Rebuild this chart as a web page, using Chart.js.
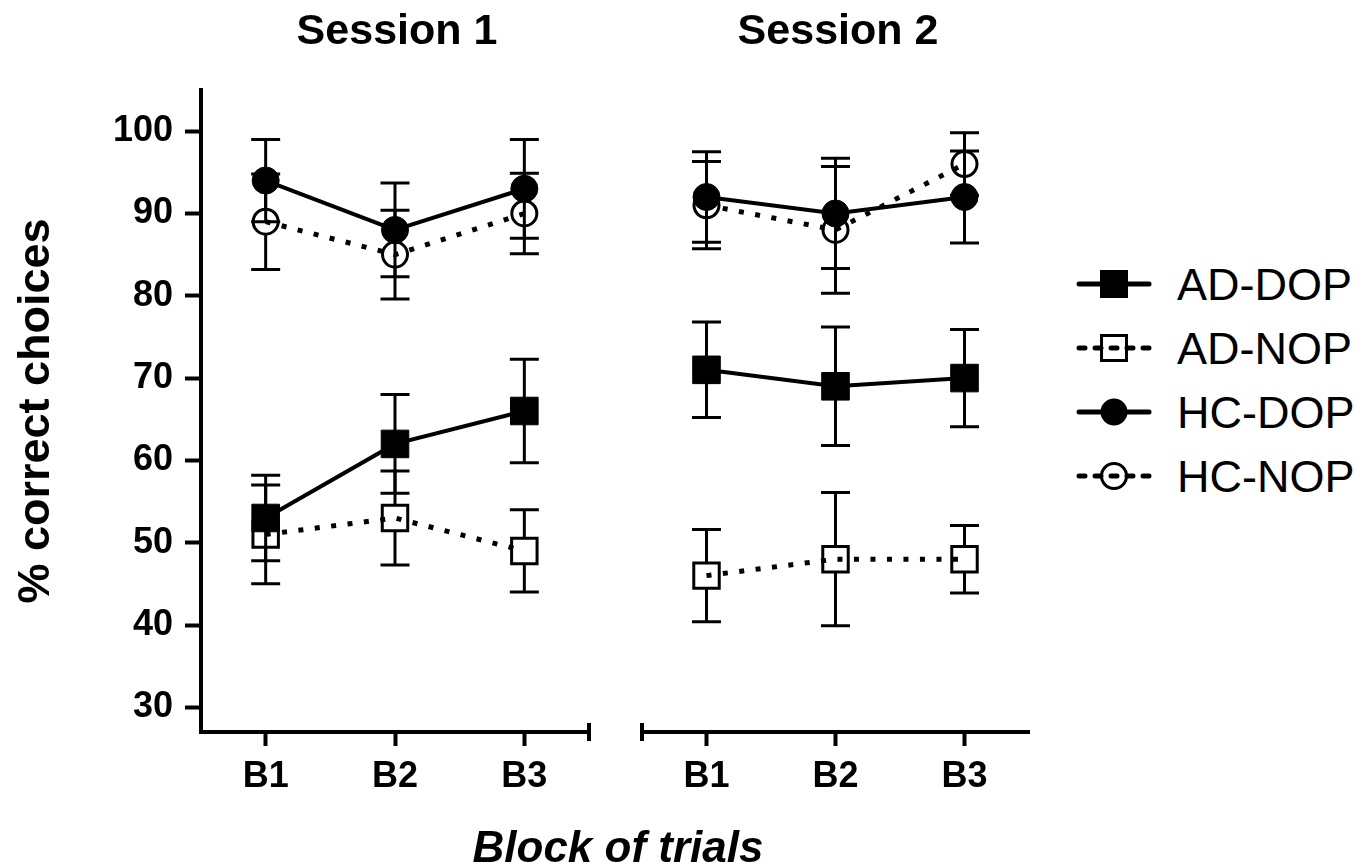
<!DOCTYPE html>
<html lang="en">
<head>
<meta charset="UTF-8">
<title>% correct choices by block of trials</title>
<script src="https://cdn.jsdelivr.net/npm/chart.js"></script>
<style>
  body { margin: 0; background: #fff; font-family: "Liberation Sans", Arial, sans-serif; color: #000; }
  #wrap { position: relative; width: 1372px; height: 867px; overflow: hidden; }
  canvas { position: absolute; top: 0; }
  #c1 { left: 0; }
  #c2 { left: 610px; }
  .session { position: absolute; top: 8px; font-weight: bold; font-size: 43px; line-height: 43px; white-space: nowrap; transform: translateX(-50%); }
  #xtitle { position: absolute; left: 618px; top: 825px; font-weight: bold; font-style: italic; font-size: 44px; line-height: 44px; white-space: nowrap; transform: translateX(-50%); }
  .leg { position: absolute; left: 1074px; width: 298px; height: 44px; }
  .leg svg { position: absolute; left: 0; top: 0; }
  .leg span { position: absolute; left: 103px; top: 0; font-size: 45px; line-height: 45px; white-space: nowrap; }
</style>
</head>
<body>
<div id="wrap">
  <canvas id="c1" width="610" height="867"></canvas>
  <canvas id="c2" width="440" height="867"></canvas>
  <div class="session" style="left:397px">Session 1</div>
  <div class="session" style="left:838px">Session 2</div>
  <div id="xtitle">Block of trials</div>
  <div id="legend"></div>
</div>

<script>
const blocks = ['B1', 'B2', 'B3'];
const groups = ['AD-DOP', 'AD-NOP', 'HC-DOP', 'HC-NOP'];
const yTicks = [30, 40, 50, 60, 70, 80, 90, 100];

// session 1 - mean % correct
const s1AdDop = [53, 62, 66];
const s1AdNop = [51, 53, 49];
const s1HcDop = [94, 88, 93];
const s1HcNop = [89, 85, 90];
// session 1 - error bar half length
const s1AdDopErr = [5.2, 6.0, 6.3];
const s1AdNopErr = [6.0, 5.7, 5.0];
const s1HcDopErr = [5.0, 5.7, 6.0];
const s1HcNopErr = [5.8, 5.4, 4.9];

// session 2 - mean % correct
const s2AdDop = [71, 69, 70];
const s2AdNop = [46, 48, 48];
const s2HcDop = [92, 90, 92];
const s2HcNop = [91, 88, 96];
// session 2 - error bar half length
const s2AdDopErr = [5.8, 7.2, 5.9];
const s2AdNopErr = [5.6, 8.1, 4.1];
const s2HcDopErr = [5.5, 6.7, 5.6];
const s2HcNopErr = [5.3, 7.7, 3.8];

const FONT = '"Liberation Sans", Arial, sans-serif';

// marker look per group (same order as groups)
const looks = [
  { style: 'rect', radius: 19.5, fill: '#000', bw: 1, dash: [], line: 4, hole: 0 },
  { style: 'rect', radius: 18, fill: 'rgba(0,0,0,0)', bw: 3, dash: [5, 11.5], line: 5, hole: 13 },
  { style: 'circle', radius: 13.5, fill: '#000', bw: 1, dash: [], line: 4, hole: 0 },
  { style: 'circle', radius: 12.5, fill: 'rgba(0,0,0,0)', bw: 3, dash: [5, 11.5], line: 5, hole: 13 }
];

function makeSets(means, errs) {
  return groups.map((g, i) => ({
    label: g,
    data: means[i],
    errors: errs[i],
    hole: looks[i].hole,
    borderColor: '#000',
    borderWidth: looks[i].line,
    borderDash: looks[i].dash,
    fill: false,
    tension: 0,
    pointStyle: looks[i].style,
    pointRadius: looks[i].radius,
    pointBackgroundColor: looks[i].fill,
    pointBorderColor: '#000',
    pointBorderWidth: looks[i].bw
  }));
}

// vertical error bars with caps, drawn under the markers
const errorBars = {
  id: 'errorBars',
  beforeDatasetsDraw(chart) {
    const ctx = chart.ctx;
    const y = chart.scales.y;
    chart.data.datasets.forEach((ds, i) => {
      chart.getDatasetMeta(i).data.forEach((pt, j) => {
        const v = ds.data[j], e = ds.errors[j];
        const yTop = y.getPixelForValue(v + e);
        const yBot = y.getPixelForValue(v - e);
        const h = ds.hole;
        ctx.save();
        ctx.strokeStyle = '#000';
        ctx.lineWidth = 3;
        ctx.beginPath();
        if (yTop < pt.y - h) { ctx.moveTo(pt.x, pt.y - h); ctx.lineTo(pt.x, yTop); }
        if (yBot > pt.y + h) { ctx.moveTo(pt.x, pt.y + h); ctx.lineTo(pt.x, yBot); }
        ctx.moveTo(pt.x - 14.5, yTop); ctx.lineTo(pt.x + 14.5, yTop);
        ctx.moveTo(pt.x - 14.5, yBot); ctx.lineTo(pt.x + 14.5, yBot);
        ctx.stroke();
        ctx.restore();
      });
    });
  }
};

// small vertical stop at the broken end of each x axis
const axisCap = {
  id: 'axisCap',
  afterDraw(chart, args, opts) {
    const { ctx, chartArea } = chart;
    const x = opts.side === 'right' ? chartArea.right : chartArea.left;
    ctx.save();
    ctx.strokeStyle = '#000';
    ctx.lineWidth = 4;
    ctx.beginPath();
    ctx.moveTo(x, chartArea.bottom - 9);
    ctx.lineTo(x, chartArea.bottom + 9);
    ctx.stroke();
    ctx.restore();
  }
};

function options(isLeft) {
  return {
    responsive: false,
    animation: false,
    events: [],
    layout: { padding: { left: isLeft ? 0 : 32, right: 13, top: 90, bottom: 45 } },
    plugins: {
      legend: { display: false },
      tooltip: { enabled: false },
      axisCap: { side: isLeft ? 'right' : 'left' }
    },
    scales: {
      x: {
        type: 'category',
        offset: true,
        grid: { display: true, drawOnChartArea: false, drawTicks: true, tickLength: 14, tickWidth: 4, color: '#000', tickColor: '#000' },
        border: { display: true, color: '#000', width: 4 },
        ticks: { color: '#000', font: { family: FONT, size: 36, weight: 'bold' }, padding: 9, maxRotation: 0, autoSkip: false },
        afterFit: s => { s.height = 90; }
      },
      y: {
        type: 'linear',
        display: isLeft,
        min: 27,
        max: 105,
        afterBuildTicks: s => { s.ticks = yTicks.map(v => ({ value: v })); },
        grid: { display: true, drawOnChartArea: false, drawTicks: true, tickLength: 16, tickWidth: 4, color: '#000', tickColor: '#000' },
        border: { display: true, color: '#000', width: 4 },
        ticks: { color: '#000', font: { family: FONT, size: 36, weight: 'bold' }, padding: 12 },
        title: { display: true, text: '% correct choices', color: '#000', font: { family: FONT, size: 45, weight: 'bold' }, padding: { top: 10, bottom: 0 } },
        afterFit: s => { s.width = isLeft ? 201 : 0; }
      }
    }
  };
}

new Chart(document.getElementById('c1'), {
  type: 'line',
  data: {
    labels: blocks,
    datasets: makeSets([s1AdDop, s1AdNop, s1HcDop, s1HcNop], [s1AdDopErr, s1AdNopErr, s1HcDopErr, s1HcNopErr])
  },
  options: options(true),
  plugins: [errorBars, axisCap]
});

new Chart(document.getElementById('c2'), {
  type: 'line',
  data: {
    labels: blocks,
    datasets: makeSets([s2AdDop, s2AdNop, s2HcDop, s2HcNop], [s2AdDopErr, s2AdNopErr, s2HcDopErr, s2HcNopErr])
  },
  options: options(false),
  plugins: [errorBars, axisCap]
});

// legend: line + marker sample, then the group name
const legendRows = [284, 348, 412, 476];
const legend = document.getElementById('legend');
groups.forEach((g, i) => {
  const lk = looks[i];
  const open = lk.hole > 0;
  const line = open
    ? '<line x1="5" y1="22" x2="75" y2="22" stroke="#000" stroke-width="5" stroke-linecap="round" stroke-dasharray="6 10"/>'
    : '<line x1="5" y1="22" x2="75" y2="22" stroke="#000" stroke-width="5" stroke-linecap="round"/>';
  let mark;
  if (lk.style === 'rect') {
    mark = open
      ? '<rect x="27.5" y="9.5" width="25" height="25" fill="none" stroke="#000" stroke-width="3"/>'
      : '<rect x="26" y="8" width="28" height="28" fill="#000"/>';
  } else {
    mark = open
      ? '<circle cx="40" cy="22" r="12.5" fill="none" stroke="#000" stroke-width="3"/>'
      : '<circle cx="40" cy="22" r="13.5" fill="#000"/>';
  }
  const row = document.createElement('div');
  row.className = 'leg';
  row.style.top = (legendRows[i] - 22) + 'px';
  row.innerHTML = '<svg width="80" height="44">' + line + mark + '</svg><span>' + g + '</span>';
  legend.appendChild(row);
});
</script>
</body>
</html>
